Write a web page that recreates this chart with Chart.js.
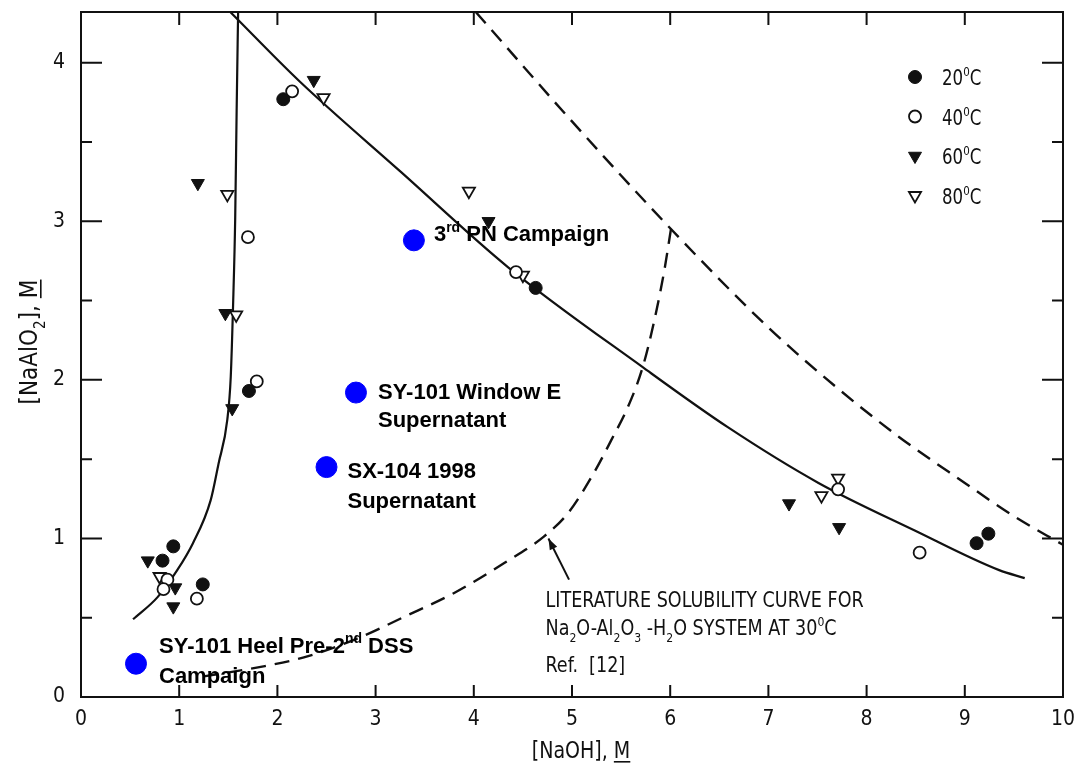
<!DOCTYPE html>
<html>
<head>
<meta charset="utf-8">
<script src="https://cdn.jsdelivr.net/npm/chart.js@4.4.1/dist/chart.umd.min.js"></script>
<style>
body { margin: 0; background: #fff; }
</style>
</head>
<body>
<canvas id="mycanvas" width="1080" height="766"></canvas>
<script>
// axis ticks
var xTickValues = [0, 1, 2, 3, 4, 5, 6, 7, 8, 9, 10];
var yTickValues = [0, 1, 2, 3, 4];
var yMinorTicks = [0.5, 1.5, 2.5, 3.5];

// measured points, [NaOH] M vs [NaAlO2] M
var temps = ['20', '40', '60', '80'];
var temp20 = [[2.06,3.77],[1.71,1.93],[0.94,0.95],[0.83,0.86],[1.24,0.71],[4.63,2.58],[9.12,0.97],[9.24,1.03]];
var temp40 = [[2.15,3.82],[1.70,2.90],[1.79,1.99],[0.88,0.74],[0.84,0.68],[1.18,0.62],[4.43,2.68],[7.71,1.31],[8.54,0.91]];
var temp60 = [[2.37,3.89],[1.19,3.24],[1.47,2.42],[1.54,1.82],[0.68,0.86],[0.96,0.69],[0.94,0.57],[4.15,3.00],[7.21,1.22],[7.72,1.07]];
var temp80 = [[2.47,3.78],[1.49,3.17],[1.58,2.41],[3.95,3.19],[4.50,2.66],[0.80,0.76],[7.71,1.38],[7.54,1.27]];

// tank samples (blue)
var samples = [[3.39,2.88],[2.80,1.92],[2.50,1.45],[0.56,0.21]];

// solubility curves
var curveSteep = [[0.53,0.49],[0.78,0.63],[0.98,0.80],[1.14,0.97],[1.32,1.24],[1.40,1.47],[1.49,1.75],[1.525,2.02],[1.55,2.50],[1.57,3.01],[1.585,3.70],[1.60,4.32]];
var curveFalling = [[1.52,4.32],[2.23,3.88],[3.26,3.31],[4.35,2.71],[5.72,2.08],[6.59,1.70],[7.51,1.35],[8.49,1.05],[9.35,0.80],[9.61,0.75]];
var litUpper = [[4.02,4.32],[5.0,3.63],[6.01,2.95],[7.0,2.33],[7.68,1.96],[8.33,1.64],[9.0,1.35],[9.5,1.14],[10.0,0.96]];
var litLower = [[1.25,0.13],[1.83,0.19],[2.27,0.25],[2.78,0.36],[3.29,0.505],[3.80,0.656],[4.31,0.845],[4.71,1.01],[4.96,1.16],[5.22,1.41],[5.40,1.62],[5.57,1.83],[5.72,2.08],[5.84,2.38],[5.94,2.69],[6.01,2.96]];
var arrowTip = [4.76, 1.00];
var arrowTail = [4.97, 0.74];

var narrow = "'Liberation Sans Narrow', 'DejaVu Sans Condensed', sans-serif";
var bold = "'Liberation Sans', Arial, sans-serif";

// sample label text, runs per line
var sampleLabels = [
	[[{t:'3'},{t:'rd',sup:true},{t:' PN Campaign'}]],
	[[{t:'SY-101 Window E'}],[{t:'Supernatant'}]],
	[[{t:'SX-104 1998'}],[{t:'Supernatant'}]],
	[[{t:'SY-101 Heel Pre-2'},{t:'nd',sup:true},{t:' DSS'}],[{t:'Campaign'}]]
];
var labelOffsets = [[20,1,0],[22,6,28],[21,11,30],[23,-11,30]];

function drawRuns(ctx, runs, x, y, size, family, weight, hs) {
	hs = hs || 1;
	ctx.save();
	ctx.translate(x, y);
	ctx.scale(hs, 1);
	var cx = 0;
	runs.forEach(function(r) {
		var s = (r.sub || r.sup) ? Math.round(size * 0.62) : size;
		ctx.font = weight + ' ' + s + 'px ' + family;
		var dy = r.sub ? size * 0.32 : (r.sup ? -size * 0.42 : 0);
		ctx.fillText(r.t, cx, dy);
		var w = ctx.measureText(r.t).width;
		if (r.u) ctx.fillRect(cx, 3, w, 1.6);
		cx += w;
	});
	ctx.restore();
	return cx * hs;
}
function runsWidth(ctx, runs, size, family, weight) {
	var w = 0;
	runs.forEach(function(r) {
		var s = (r.sub || r.sup) ? Math.round(size * 0.62) : size;
		ctx.font = weight + ' ' + s + 'px ' + family;
		w += ctx.measureText(r.t).width;
	});
	return w;
}

var decorations = {
	id: 'decorations',
	beforeDatasetsDraw: function(chart) {
		var ctx = chart.ctx, a = chart.chartArea;
		var xs = chart.scales.x, ys = chart.scales.y;
		ctx.save();
		ctx.strokeStyle = '#111';
		ctx.lineWidth = 2;
		ctx.strokeRect(a.left, a.top, a.right - a.left, a.bottom - a.top);
		ctx.beginPath();
		xTickValues.forEach(function(v) {
			if (v === 0 || v === 10) return;
			var px = xs.getPixelForValue(v);
			ctx.moveTo(px, a.bottom); ctx.lineTo(px, a.bottom - 12);
			ctx.moveTo(px, a.top); ctx.lineTo(px, a.top + 13);
		});
		yTickValues.forEach(function(v) {
			if (v === 0) return;
			var py = ys.getPixelForValue(v);
			ctx.moveTo(a.left, py); ctx.lineTo(a.left + 21, py);
			ctx.moveTo(a.right, py); ctx.lineTo(a.right - 21, py);
		});
		yMinorTicks.forEach(function(v) {
			var py = ys.getPixelForValue(v);
			ctx.moveTo(a.left, py); ctx.lineTo(a.left + 11, py);
			ctx.moveTo(a.right, py); ctx.lineTo(a.right - 11, py);
		});
		ctx.stroke();
		ctx.restore();
	},
	afterDraw: function(chart) {
		var ctx = chart.ctx, a = chart.chartArea;
		var xs = chart.scales.x, ys = chart.scales.y;
		var hs = 0.92;
		ctx.save();
		ctx.fillStyle = '#111';
		ctx.strokeStyle = '#111';
		ctx.textBaseline = 'alphabetic';
		ctx.textAlign = 'left';

		// axis titles
		var xt = [{t:'[NaOH], '},{t:'M',u:true}];
		var w = runsWidth(ctx, xt, 23, narrow, 'normal') * hs;
		drawRuns(ctx, xt, 581 - w / 2, 758, 23, narrow, 'normal', hs);
		var yt = [{t:'[NaAlO'},{t:'2',sub:true},{t:'], '},{t:'M',u:true}];
		ctx.save();
		ctx.translate(37, 342);
		ctx.rotate(-Math.PI / 2);
		w = runsWidth(ctx, yt, 24, narrow, 'normal');
		drawRuns(ctx, yt, -w / 2, 0, 24, narrow, 'normal');
		ctx.restore();

		// legend
		var sets = chart.data.datasets;
		for (var i = 0; i < temps.length; i++) {
			var ds = sets[i];
			var ly = 77 + i * 39.5;
			ctx.save();
			ctx.fillStyle = ds.backgroundColor;
			ctx.strokeStyle = ds.borderColor;
			ctx.lineWidth = ds.borderWidth;
			Chart.helpers.drawPoint(ctx, {pointStyle: ds.pointStyle, rotation: ds.rotation || 0, radius: ds.pointRadius, borderWidth: ds.borderWidth}, 915, ly);
			ctx.restore();
			drawRuns(ctx, [{t:temps[i]},{t:'0',sup:true},{t:'C'}], 942, ly + 8, 21, narrow, 'normal', 0.88);
		}

		// literature annotation
		var lx = xs.getPixelForValue(4.73);
		drawRuns(ctx, [{t:'LITERATURE SOLUBILITY CURVE FOR'}], lx, ys.getPixelForValue(0.57), 21, narrow, 'normal', 0.93);
		drawRuns(ctx, [{t:'Na'},{t:'2',sub:true},{t:'O-Al'},{t:'2',sub:true},{t:'O'},{t:'3',sub:true},{t:' -H'},{t:'2',sub:true},{t:'O SYSTEM AT 30'},{t:'0',sup:true},{t:'C'}], lx, ys.getPixelForValue(0.39), 21, narrow, 'normal', 0.93);
		drawRuns(ctx, [{t:'Ref.  [12]'}], lx, ys.getPixelForValue(0.16), 21, narrow, 'normal', 0.93);

		// arrow
		var tx = xs.getPixelForValue(arrowTip[0]), ty = ys.getPixelForValue(arrowTip[1]);
		var bx = xs.getPixelForValue(arrowTail[0]), by = ys.getPixelForValue(arrowTail[1]);
		var ang = Math.atan2(ty - by, tx - bx);
		ctx.lineWidth = 2;
		ctx.beginPath(); ctx.moveTo(bx, by); ctx.lineTo(tx, ty); ctx.stroke();
		ctx.beginPath();
		ctx.moveTo(tx, ty);
		ctx.lineTo(tx - 12 * Math.cos(ang - 0.35), ty - 12 * Math.sin(ang - 0.35));
		ctx.lineTo(tx - 12 * Math.cos(ang + 0.35), ty - 12 * Math.sin(ang + 0.35));
		ctx.closePath(); ctx.fill();

		// sample labels
		ctx.fillStyle = '#000';
		samples.forEach(function(p, k) {
			var px = xs.getPixelForValue(p[0]), py = ys.getPixelForValue(p[1]);
			var off = labelOffsets[k];
			sampleLabels[k].forEach(function(line, j) {
				drawRuns(ctx, line, px + off[0], py + off[1] + j * off[2], 22, bold, 'bold');
			});
		});
		ctx.restore();
	}
};

function pointSet(label, data, style, rot, radius, fill, bw) {
	return {
		label: label, data: data, showLine: false,
		pointStyle: style, rotation: rot, pointRadius: radius,
		backgroundColor: fill, borderColor: fill === '#fff' ? '#111' : fill,
		pointBackgroundColor: fill, pointBorderColor: fill === '#fff' ? '#111' : fill,
		borderWidth: bw, pointBorderWidth: bw
	};
}
function curveSet(label, data, dash) {
	return {
		label: label, data: data, showLine: true, fill: false,
		borderColor: '#111', borderWidth: dash ? 2.4 : 2.2, borderDash: dash || [],
		pointRadius: 0, cubicInterpolationMode: 'monotone'
	};
}

var ctx = document.getElementById('mycanvas');
var chart = new Chart(ctx, {
	type: 'scatter',
	data: {
		datasets: [
			pointSet('20', temp20, 'circle', 0, 6.5, '#111', 1),
			pointSet('40', temp40, 'circle', 0, 6, '#fff', 1.8),
			pointSet('60', temp60, 'triangle', 180, 7.5, '#111', 1),
			pointSet('80', temp80, 'triangle', 180, 7, '#fff', 1.8),
			pointSet('samples', samples, 'circle', 0, 10.5, '#0000ff', 1),
			curveSet('steep', curveSteep),
			curveSet('falling', curveFalling),
			curveSet('litUpper', litUpper, [15, 9]),
			curveSet('litLower', litLower, [15, 9])
		]
	},
	options: {
		responsive: false,
		animation: false,
		devicePixelRatio: 1,
		layout: { padding: { top: 12, right: 17, left: 0, bottom: 0 } },
		plugins: { legend: { display: false }, tooltip: { enabled: false } },
		scales: {
			x: {
				type: 'linear', min: 0, max: 10,
				afterFit: function(s) { s.height = 69; s.paddingLeft = 0; s.paddingRight = 0; },
				grid: { display: false, drawTicks: false },
				border: { display: false },
				ticks: { stepSize: 1, padding: 10, color: '#111', font: { family: narrow, size: 21 } }
			},
			y: {
				type: 'linear', min: 0, max: 4.32,
				afterFit: function(s) { s.width = 81; s.paddingTop = 0; s.paddingBottom = 0; },
				grid: { display: false, drawTicks: false },
				border: { display: false },
				ticks: { stepSize: 1, includeBounds: false, padding: 16, color: '#111', font: { family: narrow, size: 21 } }
			}
		}
	},
	plugins: [decorations]
});
</script>
</body>
</html>
